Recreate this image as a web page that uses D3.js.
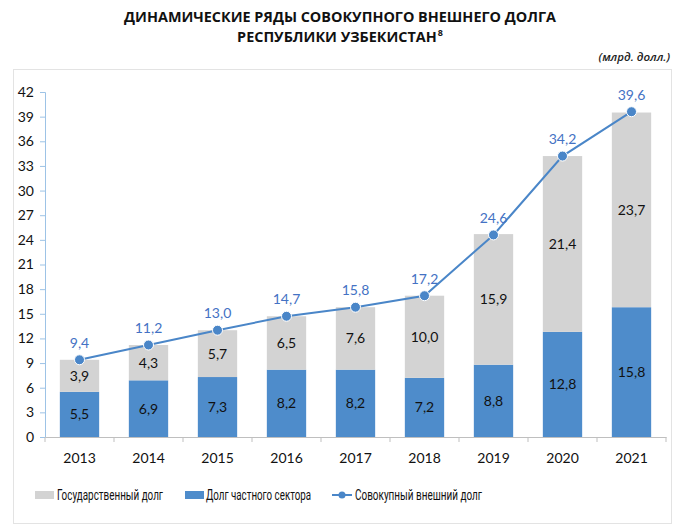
<!DOCTYPE html>
<html><head><meta charset="utf-8">
<script src="https://cdn.jsdelivr.net/npm/d3@7"></script>
<style>body{margin:0;background:#fff}svg{display:block}</style>
</head><body>
<svg id="c" width="680" height="531"></svg>
<script>
const years = ["2013","2014","2015","2016","2017","2018","2019","2020","2021"];
const privateDebt = [5.5,6.9,7.3,8.2,8.2,7.2,8.8,12.8,15.8];
const stateDebt = [3.9,4.3,5.7,6.5,7.6,10.0,15.9,21.4,23.7];
const totalDebt = [9.4,11.2,13.0,14.7,15.8,17.2,24.6,34.2,39.6];
const yTicks = [0,3,6,9,12,15,18,21,24,27,30,33,36,39,42];
const seriesNames = ["Государственный долг","Долг частного сектора","Совокупный внешний долг"];

const FONT = "Lato, 'Open Sans', sans-serif";
const CYR = "Roboto, 'Noto Sans', sans-serif";
const TIT = "'Open Sans', sans-serif";
const cBlue = "#4e8ccb", cGray = "#d3d3d3", cLine = "#4a86c8", cLbl = "#4472c4";
const fmt = v => v.toFixed(1).replace(".", ",");

const svg = d3.select("#c");
svg.attr("font-family", FONT);

svg.append("rect").attr("x",13.5).attr("y",69.5).attr("width",658).attr("height",454)
  .attr("fill","none").attr("stroke","#e3e3e3");

svg.append("text").attr("text-anchor","middle").attr("font-weight","bold").attr("font-family",TIT)
  .attr("font-size",14.4).attr("fill","#111").attr("x",340).attr("y",22)
  .text("ДИНАМИЧЕСКИЕ РЯДЫ СОВОКУПНОГО ВНЕШНЕГО ДОЛГА");
const t2 = svg.append("text").attr("text-anchor","middle").attr("font-weight","bold").attr("font-family",TIT)
  .attr("font-size",14.4).attr("fill","#111").attr("x",340).attr("y",42);
t2.append("tspan").text("РЕСПУБЛИКИ УЗБЕКИСТАН");
t2.append("tspan").attr("font-size",9).attr("dx",1).attr("dy",-6).text("8");

svg.append("text").attr("x",670).attr("y",61).attr("text-anchor","end").attr("font-family",TIT)
  .attr("font-style","italic").attr("font-weight","600").attr("font-size",11.5).attr("fill","#222")
  .text("(млрд. долл.)");

const x = d3.scaleBand().domain(years).range([45,666]).paddingInner(0.43).paddingOuter(0.215);
const y = d3.scaleLinear().domain([0,42]).range([437,92]);

const data = years.map((yr,i)=>({yr, p:privateDebt[i], s:stateDebt[i], t:totalDebt[i]}));
const g = svg.append("g");
g.selectAll(".bp").data(data).join("rect")
  .attr("x",d=>x(d.yr)).attr("width",x.bandwidth())
  .attr("y",d=>y(d.p)).attr("height",d=>y(0)-y(d.p)).attr("fill",cBlue);
g.selectAll(".bs").data(data).join("rect")
  .attr("x",d=>x(d.yr)).attr("width",x.bandwidth())
  .attr("y",d=>y(d.p+d.s)).attr("height",d=>y(d.p)-y(d.p+d.s)).attr("fill",cGray);

g.selectAll(".lp").data(data).join("text")
  .attr("x",d=>x(d.yr)+x.bandwidth()/2).attr("y",d=>y(d.p/2)+5)
  .attr("text-anchor","middle").attr("font-size",14).attr("fill","#111").text(d=>fmt(d.p));
g.selectAll(".ls").data(data).join("text")
  .attr("x",d=>x(d.yr)+x.bandwidth()/2).attr("y",d=>y(d.p+d.s/2)+5)
  .attr("text-anchor","middle").attr("font-size",14).attr("fill","#111").text(d=>fmt(d.s));

const yAxis = svg.append("g").attr("transform","translate(45,0)")
  .call(d3.axisLeft(y).tickValues(yTicks).tickSize(5).tickPadding(6).tickFormat(d3.format("d")));
yAxis.select(".domain").attr("stroke","#9dc3e6");
yAxis.selectAll(".tick line").attr("stroke","#9dc3e6");
yAxis.selectAll("text").attr("font-size",14).attr("fill","#111").attr("font-family",FONT);

const xAxis = svg.append("g").attr("transform","translate(0,437)")
  .call(d3.axisBottom(x).tickSize(0).tickPadding(16));
xAxis.select(".domain").attr("stroke","#bfbfbf");
xAxis.selectAll("text").attr("font-size",14).attr("fill","#111").attr("font-family",FONT);
const bounds = d3.range(years.length+1).map(i => 45 + i*(621/years.length));
svg.append("g").selectAll("line").data(bounds).join("line")
  .attr("x1",d=>d).attr("x2",d=>d).attr("y1",437).attr("y2",442).attr("stroke","#bfbfbf");

const line = d3.line().x(d=>x(d.yr)+x.bandwidth()/2).y(d=>y(d.t));
svg.append("path").datum(data).attr("d",line).attr("fill","none").attr("stroke",cLine).attr("stroke-width",2);
svg.selectAll(".dot").data(data).join("circle")
  .attr("cx",d=>x(d.yr)+x.bandwidth()/2).attr("cy",d=>y(d.t)).attr("r",5)
  .attr("fill",cLine).attr("stroke","#fff").attr("stroke-width",1);
svg.selectAll(".tl").data(data).join("text")
  .attr("x",d=>x(d.yr)+x.bandwidth()/2).attr("y",d=>y(d.t)-12)
  .attr("text-anchor","middle").attr("font-size",14).attr("fill",cLbl).text(d=>fmt(d.t));

const lg = svg.append("g").attr("font-size",14).attr("fill","#111").attr("font-family",CYR);
lg.append("rect").attr("x",35).attr("y",491).attr("width",19).attr("height",8).attr("fill",cGray);
lg.append("text").attr("x",57).attr("y",500).attr("textLength",106).attr("lengthAdjust","spacingAndGlyphs").text(seriesNames[0]);
lg.append("rect").attr("x",185).attr("y",491).attr("width",19).attr("height",8).attr("fill",cBlue);
lg.append("text").attr("x",206).attr("y",500).attr("textLength",105).attr("lengthAdjust","spacingAndGlyphs").text(seriesNames[1]);
lg.append("line").attr("x1",332).attr("x2",352).attr("y1",495).attr("y2",495).attr("stroke",cLine).attr("stroke-width",2);
lg.append("circle").attr("cx",342).attr("cy",495).attr("r",3.5).attr("fill",cLine);
lg.append("text").attr("x",355).attr("y",500).attr("textLength",127).attr("lengthAdjust","spacingAndGlyphs").text(seriesNames[2]);
</script>
</body></html>
